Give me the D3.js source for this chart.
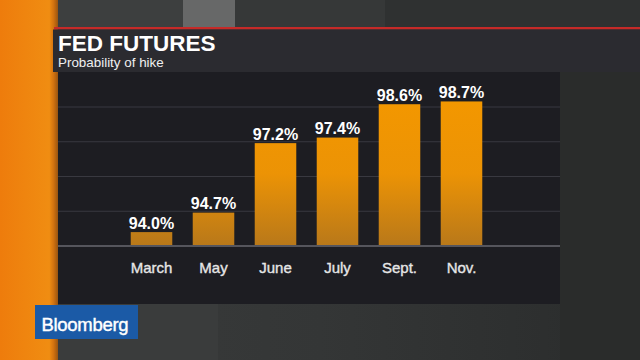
<!DOCTYPE html>
<html><head><meta charset="utf-8">
<script src="https://cdn.jsdelivr.net/npm/d3@7"></script>
<style>html,body{margin:0;padding:0;background:#333535;}svg{display:block;}</style>
</head><body>
<svg id="c" width="640" height="360"></svg>
<script>
const categories = ["March","May","June","July","Sept.","Nov."];
const values = [94.0, 94.7, 97.2, 97.4, 98.6, 98.7];
const valueLabels = ["94.0%","94.7%","97.2%","97.4%","98.6%","98.7%"];
const gridTicks = [94.75, 96.0, 97.25, 98.5];
const title = "FED FUTURES";
const subtitle = "Probability of hike";
const brand = "Bloomberg";

const svg = d3.select("#c");
const font = "'Liberation Sans', Arial, Helvetica, sans-serif";
const defs = svg.append("defs");

// background textures
const bgGrad = defs.append("linearGradient").attr("id","bg").attr("x1","0").attr("x2","1");
bgGrad.append("stop").attr("offset","0").attr("stop-color","#3a3c3c");
bgGrad.append("stop").attr("offset","0.5").attr("stop-color","#343636");
bgGrad.append("stop").attr("offset","1").attr("stop-color","#2a2c2c");
svg.append("rect").attr("width",640).attr("height",360).attr("fill","url(#bg)");
svg.append("rect").attr("x",58).attr("y",0).attr("width",125).attr("height",28).attr("fill","#3d3f3f");
svg.append("rect").attr("x",183).attr("y",0).attr("width",52).attr("height",28).attr("fill","#676868");
svg.append("rect").attr("x",235).attr("y",0).attr("width",150).attr("height",28).attr("fill","#363838");
svg.append("rect").attr("x",385).attr("y",0).attr("width",255).attr("height",28).attr("fill","#2f3131");
svg.append("rect").attr("x",560).attr("y",72).attr("width",80).attr("height",288).attr("fill","#2a2c2b");
svg.append("rect").attr("x",58).attr("y",304).attr("width",160).attr("height",56).attr("fill","#3a3c3c");

// orange strip
const og = defs.append("linearGradient").attr("id","og").attr("x1","0").attr("x2","1");
og.append("stop").attr("offset","0").attr("stop-color","#ee7c0c");
og.append("stop").attr("offset","0.85").attr("stop-color","#f08d12");
og.append("stop").attr("offset","0.92").attr("stop-color","#d47410");
og.append("stop").attr("offset","1").attr("stop-color","#9a5410");
svg.append("rect").attr("x",0).attr("y",0).attr("width",58).attr("height",360).attr("fill","url(#og)");

// red line
svg.append("rect").attr("x",54).attr("y",27).attr("width",586).attr("height",2.5).attr("fill","#c62a28");
// title panel
svg.append("rect").attr("x",53).attr("y",29.5).attr("width",587).attr("height",42.5).attr("fill","#2b2b30");
// chart panel
svg.append("rect").attr("x",58).attr("y",72).attr("width",502).attr("height",232).attr("fill","#1d1d22");

svg.append("text").attr("x",58).attr("y",50.5).attr("fill","#ffffff")
  .attr("font-family",font).attr("font-weight","bold").attr("font-size",22.5).text(title);
svg.append("text").attr("x",58).attr("y",66.5).attr("fill","#f0f0f0")
  .attr("font-family",font).attr("font-size",13.4).text(subtitle);

// scales
const y = d3.scaleLinear().domain([93.5, 98.5]).range([246, 107]);
const x = d3.scaleBand().domain(categories).range([120.5, 492.5]).paddingInner(0.33).paddingOuter(0.165);

// gridlines
svg.append("g").selectAll("line").data(gridTicks).join("line")
  .attr("x1",58).attr("x2",560).attr("y1",d=>y(d)).attr("y2",d=>y(d))
  .attr("stroke","#393940").attr("stroke-width",1.2);

const bg = defs.append("linearGradient").attr("id","barg").attr("gradientUnits","userSpaceOnUse")
  .attr("x1",0).attr("x2",0).attr("y1",y(98.7)).attr("y2",y(93.5));
bg.append("stop").attr("offset","0").attr("stop-color","#f39700");
bg.append("stop").attr("offset","0.5").attr("stop-color","#ec9305");
bg.append("stop").attr("offset","1").attr("stop-color","#b8781a");

svg.append("g").selectAll("rect").data(values).join("rect")
  .attr("x",(d,i)=>x(categories[i])).attr("width",x.bandwidth())
  .attr("y",d=>y(d)).attr("height",d=>y(93.5)-y(d)).attr("fill","url(#barg)");

// baseline
svg.append("line").attr("x1",58).attr("x2",560).attr("y1",y(93.5)).attr("y2",y(93.5))
  .attr("stroke","#55555c").attr("stroke-width",2);

svg.append("g").selectAll("text").data(values).join("text")
  .attr("x",(d,i)=>x(categories[i])+x.bandwidth()/2).attr("y",d=>y(d)-3.5)
  .attr("text-anchor","middle").attr("fill","#ffffff").attr("font-family",font)
  .attr("font-weight","bold").attr("font-size",16).text((d,i)=>valueLabels[i]);

const xAxis = d3.axisBottom(x).tickSize(0).tickPadding(0);
const ga = svg.append("g").attr("transform","translate(0,262)").call(xAxis);
ga.select(".domain").remove();
ga.selectAll("text").attr("fill","#e6e6e6").attr("font-family",font).attr("font-size",15)
  .attr("stroke","#e6e6e6").attr("stroke-width",0.35)
  .attr("dy","0.71em").attr("y",0);

// Bloomberg logo
svg.append("rect").attr("x",35).attr("y",305).attr("width",103).attr("height",34).attr("fill","#1b5aa6");
svg.append("text").attr("x",41.5).attr("y",330.5).attr("fill","#ffffff").attr("font-family",font)
  .attr("stroke","#ffffff").attr("stroke-width",0.4)
  .attr("font-size",18.5).attr("letter-spacing",-0.3).text(brand);
</script>
</body></html>
